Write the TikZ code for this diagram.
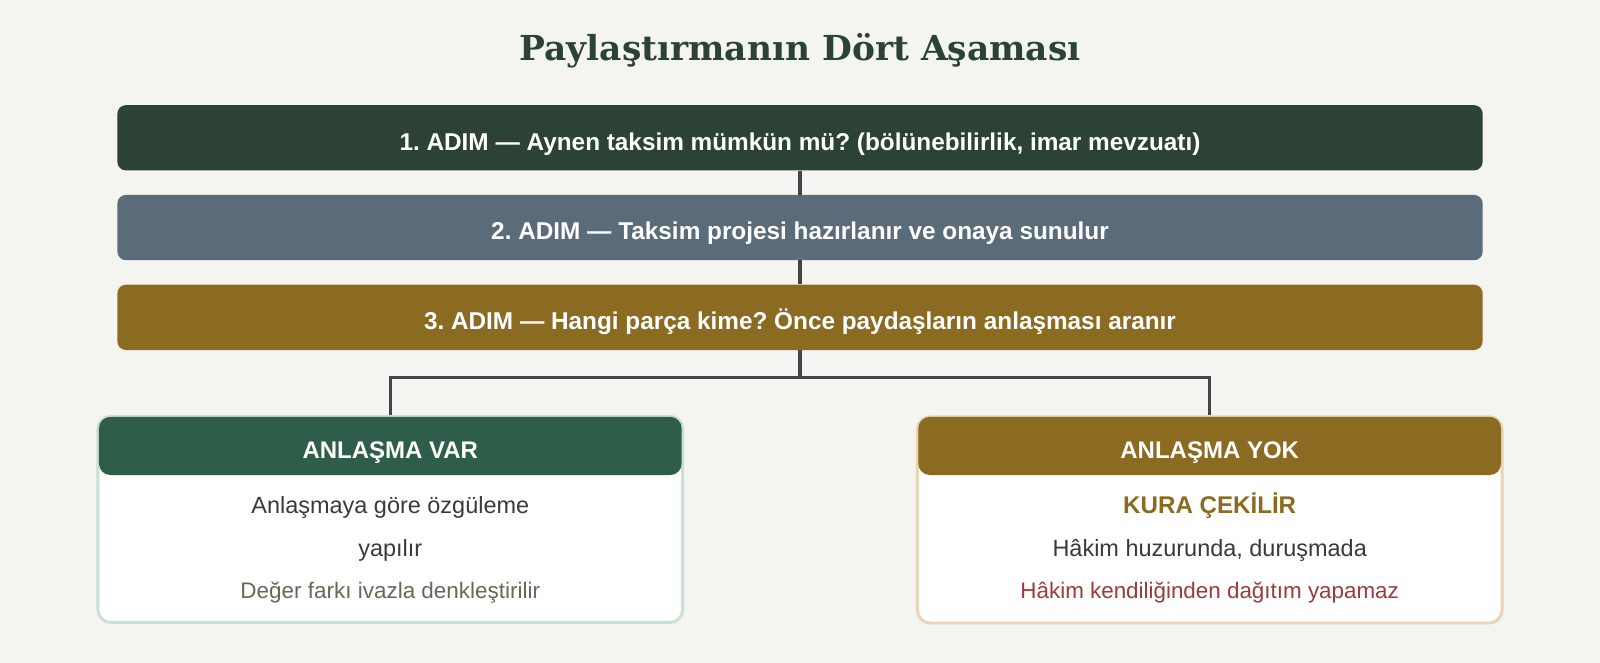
\documentclass[tikz,border=0pt]{standalone}
\usepackage{fontspec}
\setmainfont{Liberation Sans}
\newfontfamily\titlefont{DejaVu Serif}
\definecolor{bgc}{HTML}{F4F4F0}
\definecolor{darkg}{HTML}{2B4235}
\definecolor{slate}{HTML}{5A6B7A}
\definecolor{goldc}{HTML}{8B6A21}
\definecolor{greenc}{HTML}{2E5E4A}
\definecolor{bordg}{HTML}{C9E1D5}
\definecolor{bordy}{HTML}{E6D6B6}
\definecolor{txtd}{HTML}{3A3A3A}
\definecolor{txtg}{HTML}{6B6658}
\definecolor{txtr}{HTML}{9B3B3B}
\definecolor{linec}{HTML}{444444}
\frenchspacing
\begin{document}
\begin{tikzpicture}[x=0.7653pt,y=-0.7653pt,
  stepbox/.style={rounded corners=6.5pt, minimum width=1338*0.7653pt, minimum height=64*0.7653pt, inner sep=0pt, text=white, font=\bfseries\fontsize{18.25}{21}\selectfont, text height=18.4pt, text depth=0pt},
  card/.style={draw, line width=2.2pt, rounded corners=9.5pt, fill=white, minimum width=573*0.7653pt, minimum height=202*0.7653pt, inner sep=0pt},
  cardhead/.style={rounded corners=8.5pt, minimum width=571*0.7653pt, minimum height=57*0.7653pt, inner sep=0pt, text=white, font=\bfseries\fontsize{18}{21}\selectfont, text height=19pt, text depth=0pt},
  bodytxt/.style={font=\fontsize{17.6}{21}\selectfont, inner sep=0pt},
  conn/.style={draw=linec, line width=2.3pt}]
\fill[bgc] (0,0) rectangle (1568,649.7);
\useasboundingbox (0,0) rectangle (1568,649.7);
\node[font=\titlefont\bfseries\fontsize{25.8}{30}\selectfont, text=darkg] (title) at (784,49.5) {Paylaştırmanın Dört Aşaması};
\node[stepbox, fill=darkg] (s1) at (784,135) {1. ADIM — Aynen taksim mümkün mü? (bölünebilirlik, imar mevzuatı)};
\node[stepbox, fill=slate] (s2) at (784,223) {2. ADIM — Taksim projesi hazırlanır ve onaya sunulur};
\node[stepbox, fill=goldc] (s3) at (784,311) {3. ADIM — Hangi parça kime? Önce paydaşların anlaşması aranır};
\coordinate (split) at (784,370);
\node[card, draw=bordg] (lc) at (382.5,509) {};
\node[card, draw=bordy] (rc) at (1185.5,509.5) {};
\node[cardhead, fill=greenc] (lh) at (382.5,437) {ANLAŞMA VAR};
\node[cardhead, fill=goldc] (rh) at (1185.5,437) {ANLAŞMA YOK};
\node[bodytxt, text=txtd] (l1) at (382.5,497) {Anlaşmaya göre özgüleme};
\node[bodytxt, text=txtd] (l2) at (382.5,539) {yapılır};
\node[bodytxt, text=txtg, font=\fontsize{16.85}{20}\selectfont] (l3) at (382.5,581) {Değer farkı ivazla denkleştirilir};
\node[bodytxt, text=goldc, font=\bfseries\fontsize{18.1}{21}\selectfont] (r1) at (1185.5,496) {KURA ÇEKİLİR};
\node[bodytxt, text=txtd] (r2) at (1185.5,539) {Hâkim huzurunda, duruşmada};
\node[bodytxt, text=txtr, font=\fontsize{16.8}{20}\selectfont] (r3) at (1185.5,581) {Hâkim kendiliğinden dağıtım yapamaz};
\draw[conn] (s1.south) -- (s2.north);
\draw[conn] (s2.south) -- (s3.north);
\draw[conn] (s3.south) -- (split);
\draw[conn] (split) -| (lc.north);
\draw[conn] (split) -| (rc.north);
\end{tikzpicture}
\end{document}
